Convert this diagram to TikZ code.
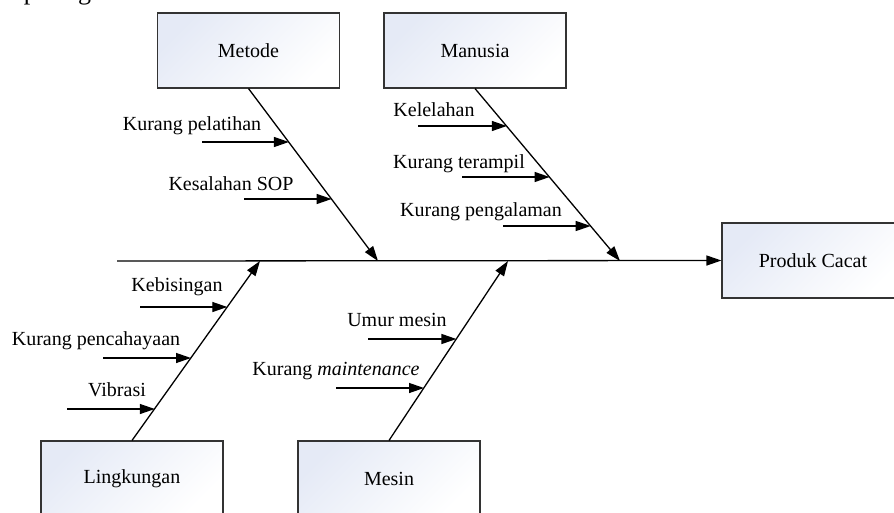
\documentclass[tikz,border=0pt]{standalone}
\usepackage{fontspec}
\setmainfont{Liberation Serif}
\usetikzlibrary{arrows.meta}
\definecolor{boxtop}{HTML}{E5EAF6}
\definecolor{boxline}{HTML}{333333}
\begin{document}
\begin{tikzpicture}[x=1pt,y=-1pt,
  catbox/.style={draw=boxline, line width=1.1pt, top color=boxtop, bottom color=white, shading angle=45, minimum width=182pt, minimum height=75pt, inner sep=0pt, font=\fontsize{20}{24}\selectfont},
  lbl/.style={inner sep=0pt, anchor=base, font=\fontsize{20}{24}\selectfont},
  arr/.style={line width=1.3pt, -{Triangle[length=15pt,width=10pt]}},
  bone/.style={line width=1.3pt}]
\useasboundingbox (0,0) rectangle (894,512);
\clip (0,0) rectangle (894,512);

% cut-off line of body text at the top
\node[inner sep=0pt, anchor=base west] (toptext) at (2,-1) {\fontsize{26}{30}\selectfont seperti gambar di bawah ini.};

% category boxes
\node[catbox] (metode) at (248.5,50.5) {Metode};
\node[catbox] (manusia) at (475,50.5) {Manusia};
\node[catbox] (produk) at (813,260.5) {Produk Cacat};
\node[catbox] (lingk) at (132,478.5) {Lingkungan};
\node[catbox] (mesin) at (389,478.5) {Mesin};

% spine
\coordinate (sp0) at (117,261);
\draw[arr] (sp0) -- (produk.west);

% bones
\coordinate (mtip) at (378,261);
\coordinate (htip) at (620,261);
\coordinate (ltip) at (260,261);
\coordinate (stip) at (508,261);
\draw[arr] (metode.south) -- (mtip);
\draw[arr] (manusia.south) -- (htip);
\draw[arr] (lingk.north) -- (ltip);
\draw[arr] (mesin.north) -- (stip);

% sub-causes: Metode
\node[lbl] (tk1) at (192,130.5) {Kurang pelatihan};
\node[lbl] (tk2) at (231,190.7) {Kesalahan SOP};
\coordinate (k1a) at (202,142); \coordinate (k1b) at (288.9,142);
\coordinate (k2a) at (244,199); \coordinate (k2b) at (331.6,199);
\draw[arr] (k1a) -- (k1b);
\draw[arr] (k2a) -- (k2b);

% sub-causes: Manusia
\node[lbl] (th1) at (434,116.7) {Kelelahan};
\node[lbl] (th2) at (459,168.3) {Kurang terampil};
\node[lbl] (th3) at (481,216.7) {Kurang pengalaman};
\coordinate (h1a) at (418,126); \coordinate (h1b) at (506.8,126);
\coordinate (h2a) at (462,177); \coordinate (h2b) at (549.6,177);
\coordinate (h3a) at (503,226); \coordinate (h3b) at (590.7,226);
\draw[arr] (h1a) -- (h1b);
\draw[arr] (h2a) -- (h2b);
\draw[arr] (h3a) -- (h3b);

% sub-causes: Lingkungan
\node[lbl] (tl1) at (177,291.7) {Kebisingan};
\node[lbl] (tl2) at (96,345) {Kurang pencahayaan};
\node[lbl] (tl3) at (117,396.7) {Vibrasi};
\coordinate (l1a) at (140,307); \coordinate (l1b) at (227.3,307);
\coordinate (l2a) at (103,358); \coordinate (l2b) at (191,358);
\coordinate (l3a) at (67,409); \coordinate (l3b) at (154.8,409);
\draw[arr] (l1a) -- (l1b);
\draw[arr] (l2a) -- (l2b);
\draw[arr] (l3a) -- (l3b);

% sub-causes: Mesin
\node[lbl] (ts1) at (397,326) {Umur mesin};
\node[lbl] (ts2) at (336,375.7) {Kurang \textit{maintenance}};
\coordinate (s1a) at (368,339); \coordinate (s1b) at (456.4,339);
\coordinate (s2a) at (336,388); \coordinate (s2b) at (424,388);
\draw[arr] (s1a) -- (s1b);
\draw[arr] (s2a) -- (s2b);
\end{tikzpicture}
\end{document}
